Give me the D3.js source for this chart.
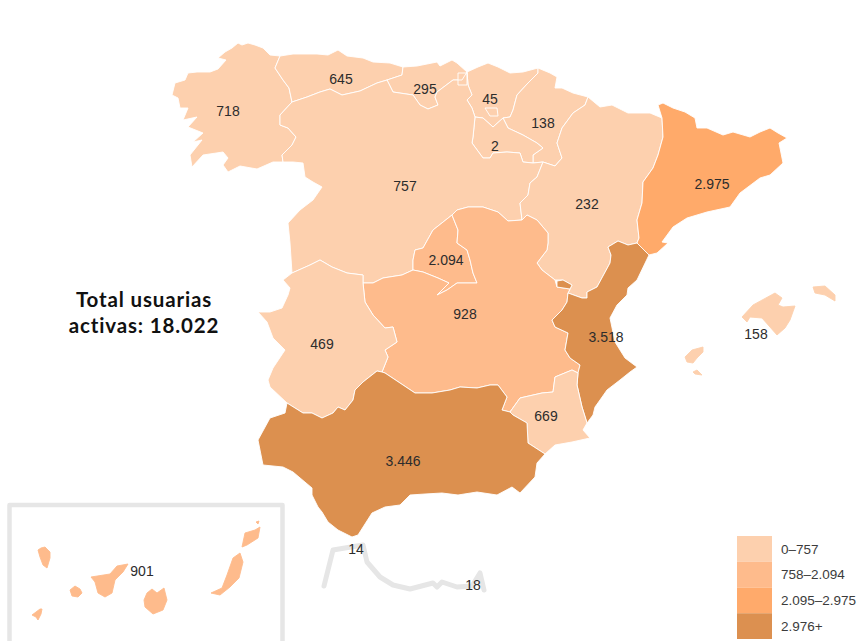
<!DOCTYPE html>
<html>
<head>
<meta charset="utf-8">
<script src="https://cdn.jsdelivr.net/npm/d3@7"></script>
<style>
  html, body { margin: 0; background: #fff; }
  .lbl { font-family: "Liberation Sans", Arial, sans-serif; font-size: 14px; fill: #2c2c2c; text-anchor: middle; }
  .leg { font-family: "Liberation Sans", Arial, sans-serif; font-size: 13.5px; fill: #3c3c3c; }
  .total { font-family: Lato, sans-serif; font-size: 20.5px; font-weight: 700; fill: #111; text-anchor: middle; letter-spacing: 0.85px; }
</style>
</head>
<body>
<svg id="chart" width="857" height="641"></svg>
<script>
// values
var regions = ["Galicia", "Asturias", "Cantabria", "País Vasco", "Navarra", "La Rioja", "Castilla y León", "Aragón", "Cataluña",
  "Madrid", "Castilla-La Mancha", "C. Valenciana", "Baleares", "Extremadura", "Murcia", "Andalucía", "Canarias", "Ceuta", "Melilla"];
var values = [718, 645, 295, 45, 138, 2, 757, 232, 2975, 2094, 928, 3518, 158, 469, 669, 3446, 901, 14, 18];
var valueLabels = ["718", "645", "295", "45", "138", "2", "757", "232", "2.975", "2.094", "928", "3.518", "158", "469", "669", "3.446", "901", "14", "18"];
var thresholds = [758, 2095, 2976];
var colours = ["#fdd0ae", "#febb8c", "#ffaa6b", "#dc9050"];
var legendLabels = ["0–757", "758–2.094", "2.095–2.975", "2.976+"];
var totalLines = ["Total usuarias", "activas: 18.022"];

// map geometry, traced region outlines in map units
var outlines = {
  "Galicia": [[[280,56],[270,55],[263,48],[255,45],[248,43],[242,45],[238,43],[232,48],[225,52],[218,58],[226,60],[218,69],[210,72],[197,72],[188,73],[185,80],[175,83],[172,95],[178,98],[180,108],[188,108],[183,120],[197,117],[188,127],[203,133],[193,142],[202,140],[190,155],[192,167],[203,155],[223,152],[228,158],[223,165],[228,172],[240,166],[257,169],[273,162],[283,162],[282,155],[292,145],[296,137],[288,128],[280,125],[280,115],[292,102],[289,88],[283,80],[275,68]]],
  "Asturias": [[[280,56],[293,54],[317,54],[328,55],[338,50],[347,56],[363,58],[373,62],[390,63],[403,67],[402,75],[387,80],[377,83],[360,91],[342,95],[330,89],[320,92],[307,97],[292,102],[289,88],[283,80],[275,68]]],
  "Cantabria": [[[403,67],[417,66],[437,62],[440,66],[452,60],[457,63],[467,72],[462,80],[453,80],[437,92],[435,97],[438,105],[428,109],[420,105],[413,95],[393,92],[387,80],[402,75]]],
  "País Vasco": [[[467,72],[478,67],[488,63],[498,67],[510,73],[523,72],[538,68],[538,73],[528,83],[517,95],[513,110],[510,117],[503,118],[493,127],[483,118],[475,117],[472,108],[467,100],[472,95],[468,85]]],
  "Navarra": [[[538,68],[550,73],[557,77],[555,88],[562,88],[573,93],[588,97],[585,105],[573,113],[562,128],[557,143],[562,158],[555,166],[543,162],[533,163],[533,155],[543,148],[537,143],[523,135],[508,128],[503,118],[510,117],[513,110],[517,95],[528,83],[538,73]]],
  "La Rioja": [[[475,117],[483,118],[493,127],[503,118],[508,128],[523,135],[537,143],[543,148],[533,155],[533,163],[523,162],[520,153],[507,152],[493,153],[490,158],[483,158],[472,143],[473,137]]],
  "Castilla y León": [
    [[292,102],[307,97],[320,92],[330,89],[342,95],[360,91],[377,83],[387,80],[393,92],[413,95],[420,105],[428,109],[438,105],[435,97],[437,92],[453,80],[462,80],[467,72],[468,85],[472,95],[467,100],[472,108],[475,117],[473,137],[472,143],[483,158],[490,158],[493,153],[507,152],[520,153],[523,162],[533,163],[543,162],[537,177],[530,183],[528,195],[520,203],[522,220],[508,221],[498,212],[483,207],[468,207],[457,210],[452,215],[433,230],[423,248],[415,250],[413,260],[413,270],[402,275],[383,278],[373,283],[363,283],[363,275],[347,273],[332,267],[320,260],[310,265],[292,273],[290,243],[288,223],[300,210],[313,200],[322,187],[313,182],[305,177],[303,163],[293,162],[283,162],[282,155],[292,145],[296,137],[288,128],[280,125],[280,115]],
    [[485,108],[497,108],[498,116],[490,116]],
    [[458,73],[467,73],[467,85],[458,85]]
  ],
  "Aragón": [[[588,97],[600,107],[612,105],[628,113],[650,113],[662,118],[663,137],[658,155],[653,168],[643,182],[642,203],[637,220],[639,238],[637,243],[628,245],[618,241],[608,247],[611,255],[610,263],[597,287],[587,292],[587,298],[582,298],[568,293],[570,289],[572,285],[563,280],[555,280],[542,270],[537,263],[547,250],[548,243],[548,233],[537,220],[527,215],[522,220],[520,203],[528,195],[530,183],[537,177],[543,162],[555,166],[562,158],[557,143],[562,128],[573,113],[585,105]]],
  "Cataluña": [[[658,105],[663,103],[673,108],[685,112],[695,118],[697,128],[707,128],[723,135],[733,132],[750,137],[760,132],[770,128],[778,133],[787,138],[779,143],[783,163],[770,175],[760,178],[740,193],[730,207],[707,212],[687,218],[673,227],[662,242],[668,243],[657,253],[649,255],[637,243],[639,238],[637,220],[642,203],[643,182],[653,168],[658,155],[663,137],[662,118]]],
  "Madrid": [[[452,215],[458,230],[457,243],[467,250],[470,260],[473,273],[477,283],[457,283],[447,290],[437,295],[449,283],[438,278],[423,272],[413,270],[413,260],[415,250],[423,248],[433,230]]],
  "Castilla-La Mancha": [[[452,215],[457,210],[468,207],[483,207],[498,212],[508,221],[522,220],[527,215],[537,220],[548,233],[548,243],[547,250],[537,263],[542,270],[555,280],[557,287],[570,289],[568,293],[567,302],[562,310],[552,320],[555,327],[568,333],[565,350],[570,358],[580,365],[578,373],[572,370],[555,377],[553,392],[542,393],[520,398],[510,412],[502,410],[507,397],[498,385],[490,385],[477,388],[460,387],[450,390],[432,393],[415,393],[400,383],[385,373],[382,372],[388,357],[385,350],[397,342],[393,327],[385,328],[373,315],[365,302],[363,283],[373,283],[383,278],[402,275],[413,270],[423,272],[438,278],[449,283],[437,295],[447,290],[457,283],[477,283],[473,273],[470,260],[467,250],[457,243],[458,230]]],
  "C. Valenciana": [
    [[618,241],[628,245],[637,243],[649,255],[637,280],[628,288],[627,295],[617,305],[610,318],[615,342],[625,358],[637,367],[630,372],[620,380],[607,390],[600,400],[595,407],[593,415],[587,423],[582,407],[577,385],[578,373],[580,365],[570,358],[565,350],[568,333],[555,327],[552,320],[562,310],[567,302],[568,293],[582,298],[587,298],[587,292],[597,287],[610,263],[611,255],[608,247]],
    [[557,281],[563,280],[572,285],[570,289],[557,287]]
  ],
  "Baleares": [
    [[742,317],[753,305],[775,293],[782,298],[778,305],[783,307],[795,306],[790,320],[785,328],[777,335],[762,318],[750,317],[747,322]],
    [[813,287],[825,286],[835,295],[835,301],[825,295],[815,293]],
    [[685,357],[692,350],[703,347],[703,352],[697,358],[693,363],[687,362]],
    [[693,372],[697,370],[702,375],[695,374]]
  ],
  "Extremadura": [[[363,283],[365,302],[373,315],[385,328],[393,327],[397,342],[385,350],[388,357],[382,372],[377,371],[363,382],[355,390],[353,400],[345,410],[338,407],[333,413],[322,418],[312,413],[303,413],[287,403],[270,387],[268,380],[273,368],[285,350],[273,338],[267,322],[258,312],[270,312],[282,308],[288,295],[290,288],[283,280],[292,273],[310,265],[320,260],[332,267],[347,273],[363,275]]],
  "Murcia": [[[520,398],[542,393],[553,392],[555,377],[572,370],[578,373],[577,385],[582,407],[587,423],[583,430],[590,438],[572,442],[555,445],[545,454],[528,443],[527,423],[513,415],[510,412]]],
  "Andalucía": [[[382,372],[385,373],[400,383],[415,393],[432,393],[450,390],[460,387],[477,388],[490,385],[498,385],[507,397],[502,410],[510,412],[513,415],[527,423],[528,443],[545,454],[537,463],[535,477],[520,493],[512,487],[497,495],[477,492],[458,495],[442,493],[425,494],[410,495],[400,505],[385,507],[372,513],[358,535],[352,537],[338,530],[328,522],[322,512],[318,507],[312,495],[312,488],[293,472],[283,467],[263,465],[260,450],[258,440],[270,418],[285,413],[287,403],[303,413],[312,413],[322,418],[333,413],[338,407],[345,410],[353,400],[355,390],[363,382],[377,371]]],
  "Canarias": [
    [[32,615],[40,609],[42,609],[41,614],[38,620],[36,617]],
    [[38,550],[41,548],[45,547],[50,552],[50,558],[47,568],[43,565],[40,557]],
    [[70,590],[75,586],[80,589],[82,593],[78,597],[72,596]],
    [[128,564],[117,566],[110,574],[91,577],[95,582],[98,593],[105,597],[112,593],[115,580],[123,572]],
    [[152,589],[157,593],[164,588],[167,600],[163,610],[153,614],[145,607],[144,600],[147,593]],
    [[240,553],[243,562],[239,578],[230,587],[220,595],[211,593],[222,588],[227,575],[233,558]],
    [[260,527],[258,538],[247,545],[242,547],[245,533],[255,530]],
    [[256,522],[259,521],[258,524]]
  ]
};

// where each value is written, map units
var labelAnchors = [[228,111],[341,79],[425,89],[490,99],[543,123],[495,146],[405,186],[587,204],[712,184],
  [446,260],[465,314],[606,337],[756,334],[322,344],[546,416],[403,461],[142,571],[356,549],[473,585]];

// grey inset frame and the Ceuta-Melilla sketch line
var insetFrame = [[9.5,650],[9.5,505],[282.5,505],[282.5,650]];
var africaLine = [[324,586],[333,550],[363,545],[367,562],[380,577],[393,585],[410,589],[433,583],[437,587],[442,582],[457,587],[472,586],[480,573],[484,590]];

var svg = d3.select("#chart");
var defs = svg.append("defs");
defs.append("filter").attr("id", "soft").append("feGaussianBlur").attr("stdDeviation", 0.4);

var colour = d3.scaleThreshold().domain(thresholds).range(colours);
var projection = d3.geoIdentity();
var geoPath = d3.geoPath(projection);

var features = regions.filter(function (r) { return outlines[r]; }).map(function (r) {
  return {
    type: "Feature",
    properties: { name: r, value: values[regions.indexOf(r)] },
    geometry: { type: "MultiPolygon", coordinates: outlines[r].map(function (ring) { return [ring.concat([ring[0]])]; }) }
  };
});

var map = svg.append("g").attr("filter", "url(#soft)");

map.selectAll("path.line")
  .data([insetFrame, africaLine])
  .enter().append("path")
  .attr("class", "line")
  .attr("d", function (d) { return geoPath({ type: "LineString", coordinates: d }); })
  .attr("fill", "none")
  .attr("stroke", "#e6e6e6")
  .attr("stroke-width", function (d, i) { return i == 0 ? 4.5 : 5; })
  .attr("stroke-linejoin", "round")
  .attr("stroke-linecap", "round");

map.selectAll("path.region")
  .data(features)
  .enter().append("path")
  .attr("class", "region")
  .attr("d", geoPath)
  .attr("fill", function (d) { return colour(d.properties.value); })
  .attr("stroke", function (d) {
    // islands get no white edge, it would only thin them
    return d.properties.name == "Canarias" || d.properties.name == "Baleares" ? colour(d.properties.value) : "#fff";
  })
  .attr("stroke-width", 0.9)
  .attr("stroke-linejoin", "round");

/* Legend */
var legendY = d3.scaleBand().domain(legendLabels).range([536, 639]);
var legend = svg.selectAll("g.legend")
  .data(legendLabels)
  .enter().append("g")
  .attr("class", "legend")
  .attr("transform", function (d) { return "translate(737," + legendY(d) + ")"; });
legend.append("rect")
  .attr("width", 35)
  .attr("height", legendY.bandwidth())
  .attr("fill", function (d, i) { return colours[i]; });
legend.append("text")
  .attr("class", "leg")
  .attr("x", 44)
  .attr("y", legendY.bandwidth() / 2)
  .attr("dy", "0.36em")
  .text(function (d) { return d; });

/* Labels */
svg.selectAll("text.lbl")
  .data(valueLabels)
  .enter().append("text")
  .attr("class", "lbl")
  .attr("x", function (d, i) { return projection(labelAnchors[i])[0]; })
  .attr("y", function (d, i) { return projection(labelAnchors[i])[1]; })
  .attr("dy", "0.36em")
  .text(function (d) { return d; });

svg.selectAll("text.total")
  .data(totalLines)
  .enter().append("text")
  .attr("class", "total")
  .attr("x", 144)
  .attr("y", function (d, i) { return 307 + i * 26; })
  .text(function (d) { return d; });
</script>
</body>
</html>
